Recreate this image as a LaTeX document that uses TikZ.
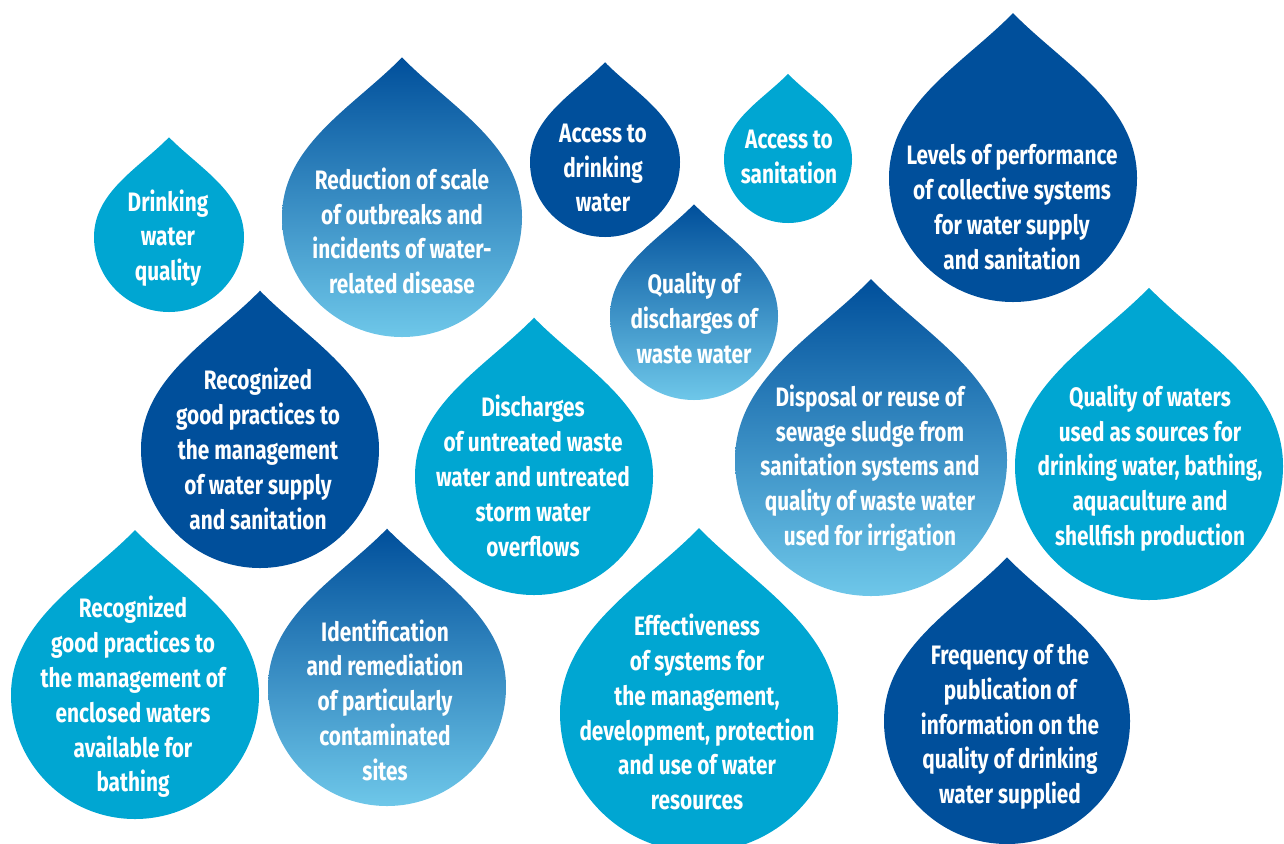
\documentclass[tikz,border=0pt]{standalone}
\usepackage{fontspec}
\usepackage{tikz}
\newfontfamily\dropfont[FakeStretch=0.78]{Fira Sans}
\definecolor{dropdark}{RGB}{0,79,155}
\definecolor{dropcyan}{RGB}{0,166,210}
\definecolor{droplight}{RGB}{110,199,233}
\definecolor{dropmid}{RGB}{48,134,196}

\begin{document}
\begin{tikzpicture}[x=0.75pt,y=0.75pt,yscale=-1,xscale=1,
    darkdrop/.style={fill=dropdark},
    cyandrop/.style={fill=dropcyan},
    fadedrop/.style={top color=dropdark,middle color=dropmid,bottom color=droplight},
    droptext/.style={text=white,align=center,inner sep=0pt,font=\dropfont\bfseries\fontsize{20}{26.1}\selectfont}]
            \clip (0,0) rectangle (1284,843);
            % drops: centre x / centre y / radius / look
            \foreach \cx/\cy/\r/\look in {169/237/75/cyandrop, 402/217/120/fadedrop, 605/162/75/darkdrop, 788/159/64/cyandrop,
                1013/178/124/darkdrop, 694/316/84/fadedrop, 260/449/119/darkdrop, 534/476/119/cyandrop,
                871/460/136/fadedrop, 1149/466/134/cyandrop, 135/695/124/cyandrop, 387/687/119/fadedrop,
                699/713/139/cyandrop, 1007/721/123/darkdrop}
            \path[\look] (\cx,{\cy-1.33*\r}) .. controls ({\cx+0.4*\r},{\cy-0.92*\r}) and ({\cx+\r},{\cy-0.6*\r}) .. ({\cx+\r},\cy)
                arc[start angle=0,end angle=180,radius=\r]
                .. controls ({\cx-\r},{\cy-0.6*\r}) and ({\cx-0.4*\r},{\cy-0.92*\r}) .. (\cx,{\cy-1.33*\r}) -- cycle;

            \node[droptext] (drinkqual) at (168,238) {Drinking\\water\\quality};
            \node[droptext] (outbreaks) at (402,231) {Reduction of scale\\of outbreaks and\\incidents of water-\\related disease};
            \node[droptext] (accessdrink) at (603,168) {Access to\\drinking\\water};
            \node[droptext] (accesssan) at (789,157) {Access to\\sanitation};
            \node[droptext] (perflevels) at (1012,207) {Levels of performance\\of collective systems\\for water supply\\and sanitation};
            \node[droptext] (discharges) at (694,318) {Quality of\\discharges of\\waste water};
            \node[droptext] (practsupply) at (258,449) {Recognized\\good practices to\\the management\\of water supply\\and sanitation};
            \node[droptext] (untreated) at (533,476) {Discharges\\of untreated waste\\water and untreated\\storm water\\overflows};
            \node[droptext] (sludge) at (870,468) {Disposal or reuse of\\sewage sludge from\\sanitation systems and\\quality of waste water\\used for irrigation};
            \node[droptext] (sourcewaters) at (1150,468) {Quality of waters\\used as sources for\\drinking water, bathing,\\aquaculture and\\shellfish production};
            \node[droptext] (practbathing) at (133,697) {Recognized\\good practices to\\the management of\\enclosed waters\\available for\\bathing};
            \node[droptext] (contamsites) at (385,700) {Identification\\and remediation\\of particularly\\contaminated\\sites};
            \node[droptext] (effectiveness) at (697,712) {Effectiveness\\of systems for\\the management,\\development, protection\\and use of water\\resources};
            \node[droptext] (publication) at (1010,727) {Frequency of the\\publication of\\information on the\\quality of drinking\\water supplied};
        \end{tikzpicture}
\end{document}
